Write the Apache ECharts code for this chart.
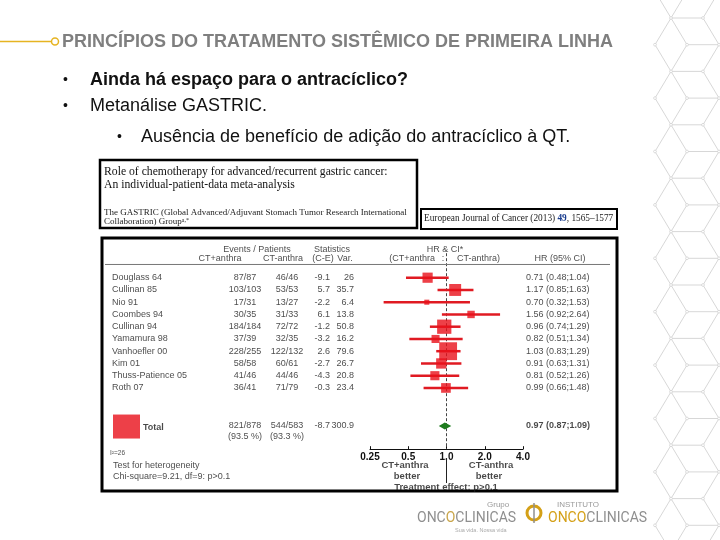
<!DOCTYPE html>
<html><head><meta charset="utf-8">
<script src="https://cdn.jsdelivr.net/npm/echarts/dist/echarts.min.js"></script>
<style>html,body{margin:0;padding:0;background:#fff}#c{width:720px;height:540px}</style>
</head><body><div id="c"></div>
<script>
// ---------- data ----------
const studies = ['Douglass 64','Cullinan 85','Nio 91','Coombes 94','Cullinan 94','Yamamura 98','Vanhoefler 00','Kim 01','Thuss-Patience 05','Roth 07'];
const eventsWith = ['87/87','103/103','17/31','30/35','184/184','37/39','228/255','58/58','41/46','36/41'];
const eventsWithout = ['46/46','53/53','13/27','31/33','72/72','32/35','122/132','60/61','44/46','71/79'];
const oMinusE = [-9.1,5.7,-2.2,6.1,-1.2,-3.2,2.6,-2.7,-4.3,-0.3];
const variance = [26,35.7,6.4,13.8,50.8,16.2,79.6,26.7,20.8,23.4];
const hr = [0.71,1.17,0.70,1.56,0.96,0.82,1.03,0.91,0.81,0.99];
const hrLow = [0.48,0.85,0.32,0.92,0.74,0.51,0.83,0.63,0.52,0.66];
const hrHigh = [1.04,1.63,1.53,2.64,1.29,1.34,1.29,1.31,1.26,1.48];
const totalEventsWith = ['821/878','(93.5 %)'];
const totalEventsWithout = ['544/583','(93.3 %)'];
const totalStats = [-8.7, 300.9];
const totalHR = [0.97, 0.87, 1.09];
const xTicks = [0.25, 0.5, 1, 2, 4];
const xTickLabels = ['0.25','0.5','1.0','2.0','4.0'];

// ---------- layout constants ----------
const ROW = 12.25;
const TOTAL_ROW = 12.1;
const FONT = "'Liberation Sans', Arial, sans-serif";
const SERIF = "'Liberation Serif', 'Times New Roman', serif";
const RED = '#e8101a';

function fmt2(v){ return v.toFixed(2); }
function textSeries(items, align, extra) {
  return Object.assign({
    type: 'scatter', xAxisIndex: 1, yAxisIndex: 1, silent: true,
    symbolSize: 1, itemStyle: { color: 'transparent' }, z: 10,
    data: items.map(it => ({ value: [it[0], it[1]], name: it[2] })),
    label: { show: true, position: 'inside', align: align, verticalAlign: 'middle',
      formatter: '{b}', fontSize: 9, color: '#1a1a1a', fontFamily: FONT }
  }, extra || {});
}
function bold(s, size){ s.label.fontWeight = 'bold'; if (size) s.label.fontSize = size; return s; }

// table columns (offsets in table grid)
const C_NAME = 10, C_W = 143, C_WO = 185, C_OE = 228, C_VAR = 252, C_HR = 424;

const nameItems = studies.map((s,i)=>[C_NAME, i, s]);
const wItems = eventsWith.map((s,i)=>[C_W, i, s]).concat([[C_W, TOTAL_ROW, totalEventsWith[0]],[C_W, 13.0, totalEventsWith[1]]]);
const woItems = eventsWithout.map((s,i)=>[C_WO, i, s]).concat([[C_WO, TOTAL_ROW, totalEventsWithout[0]],[C_WO, 13.0, totalEventsWithout[1]]]);
const oeItems = oMinusE.map((v,i)=>[C_OE, i, String(v)]).concat([[C_OE, TOTAL_ROW, String(totalStats[0])]]);
const varItems = variance.map((v,i)=>[C_VAR, i, String(v)]).concat([[C_VAR, TOTAL_ROW, String(totalStats[1])]]);
const hrItems = hr.map((v,i)=>[C_HR, i, fmt2(v)+' ('+fmt2(hrLow[i])+';'+fmt2(hrHigh[i])+')']);

const headerCenter = [[155,-2.26,'Events / Patients'],[118,-1.53,'CT+anthra'],[181,-1.53,'CT-anthra'],
  [230,-2.26,'Statistics'],[221,-1.53,'(C-E)'],[243,-1.53,'Var.'],[343,-2.26,'HR & CI*'],[341,-1.53,':'],[458,-1.53,'HR (95% CI)']];

// ---------- decoration ----------
const graphics = [];
// right "tumbling blocks" lattice
(function(){
  const a = 655, b = 671, c = 687, d = 703, e = 719, h = 26.7, y0 = 18 - 2*26.7;
  const st = { stroke: '#cdcdcd', lineWidth: 0.8 };
  const L = (x1,y1,x2,y2) => graphics.push({type:'line', shape:{x1,y1,x2,y2}, style:st, silent:true});
  const N = (x,y) => graphics.push({type:'circle', shape:{cx:x, cy:y, r:1.4}, style:{fill:'#fff', stroke:'#c8c8c8', lineWidth:0.6}, silent:true, z:1});
  for (let k = 0; k < 24; k += 2) {
    const ye = y0 + k*h, yo = ye + h, ye2 = ye + 2*h;
    L(b,ye,d,ye);           // even-row horizontal
    L(c,yo,e,yo);           // odd-row horizontal
    L(b,ye,a,yo); L(a,yo,b,ye2);
    L(b,ye,c,yo); L(c,yo,b,ye2);
    L(d,ye,e,yo); L(e,yo,d,ye2);
    N(b,ye); N(d,ye); N(a,yo); N(c,yo); N(e,yo);
  }
})();
// title
graphics.push({type:'line', shape:{x1:0,y1:41.5,x2:51,y2:41.5}, style:{stroke:'#e6b422', lineWidth:1.5}});
graphics.push({type:'circle', shape:{cx:55,cy:41.5,r:3.5}, style:{fill:'#fff', stroke:'#e6b422', lineWidth:1.5}});
graphics.push({type:'text', x:62, y:42, style:{text:'PRINCÍPIOS DO TRATAMENTO SISTÊMICO DE PRIMEIRA LINHA', fill:'#7f7f7f', font:'bold 18px '+FONT, verticalAlign:'middle'}});
// bullets
[[63,90,80,'Ainda há espaço para o antracíclico?','bold'],[63,90,106,'Metanálise GASTRIC.','normal'],[117,141,137,'Ausência de benefício de adição do antracíclico à QT.','normal']].forEach(bl=>{
  graphics.push({type:'text', x:bl[0], y:bl[2], style:{text:'•', fill:'#111', font:'14px '+FONT, verticalAlign:'middle'}});
  graphics.push({type:'text', x:bl[1], y:bl[2], style:{text:bl[3], fill:'#111', font:bl[4]+' 18px '+FONT, verticalAlign:'middle'}});
});
// article header box
graphics.push({type:'rect', shape:{x:100,y:160,width:317,height:68}, style:{fill:'#fff', stroke:'#000', lineWidth:2.5}});
graphics.push({type:'text', x:104, y:172, style:{text:'Role of chemotherapy for advanced/recurrent gastric cancer:', fill:'#111', font:'11.7px '+SERIF, verticalAlign:'middle'}});
graphics.push({type:'text', x:104, y:185, style:{text:'An individual-patient-data meta-analysis', fill:'#111', font:'11.7px '+SERIF, verticalAlign:'middle'}});
graphics.push({type:'text', x:104, y:213, style:{text:'The GASTRIC (Global Advanced/Adjuvant Stomach Tumor Research International', fill:'#222', font:'9px '+SERIF, verticalAlign:'middle'}});
graphics.push({type:'text', x:104, y:222, style:{text:'Collaboration) Group{s|a,*}', rich:{s:{fontSize:6, verticalAlign:'top', fill:'#222', fontFamily:SERIF}}, fill:'#222', font:'9px '+SERIF, verticalAlign:'middle'}});
// journal box
graphics.push({type:'rect', shape:{x:421,y:209,width:196,height:20}, style:{fill:'#fff', stroke:'#000', lineWidth:2}});
graphics.push({type:'text', x:424, y:219, style:{text:'European Journal of Cancer (2013) {b|49}, 1565–1577', rich:{b:{fontWeight:'bold', fill:'#1a3d8f', fontSize:9.3, fontFamily:SERIF}}, fill:'#222', font:'9.3px '+SERIF, verticalAlign:'middle'}});
// main box
graphics.push({type:'rect', shape:{x:102,y:238,width:515,height:253}, style:{fill:'none', stroke:'#000', lineWidth:3}, z:-1});
// logos
graphics.push({type:'text', x:487, y:505, style:{text:'Grupo', fill:'#9a9a9a', font:'8px '+FONT, verticalAlign:'middle'}});
graphics.push({type:'text', x:417, y:518, style:{text:'ONC{g|O}CLINICAS', rich:{g:{fill:'#c9a54a', fontSize:14, fontFamily:'Roboto'}}, fill:'#8f8f8f', font:'14px Roboto', verticalAlign:'middle'}});
graphics.push({type:'text', x:455, y:530, style:{text:'Sua vida. Nossa vida', fill:'#aaa', font:'5.5px '+FONT, verticalAlign:'middle'}});
graphics.push({type:'circle', shape:{cx:534,cy:513,r:7}, style:{fill:'none', stroke:'#d4a017', lineWidth:3}});
graphics.push({type:'line', shape:{x1:534,y1:503,x2:534,y2:523}, style:{stroke:'#8f8f8f', lineWidth:1.5}});
graphics.push({type:'text', x:557, y:505, style:{text:'INSTITUTO', fill:'#9a9a9a', font:'8px '+FONT, verticalAlign:'middle'}});
graphics.push({type:'text', x:548, y:518, style:{text:'{g|ONCO}CLINICAS', rich:{g:{fill:'#d4a017', fontSize:14, fontFamily:'Roboto'}}, fill:'#8f8f8f', font:'14px Roboto', verticalAlign:'middle'}});

// ---------- chart ----------
const chart = echarts.init(document.getElementById('c'), null, {renderer:'canvas'});
const option = {
  backgroundColor: '#fff',
  animation: false,
  graphic: graphics,
  grid: [
    { left: 370, top: 253.2, width: 153, height: 16*ROW },
    { left: 102, top: 277.7 - 3*ROW, width: 515, height: 21*ROW }
  ],
  xAxis: [
    { type: 'log', logBase: 2, min: 0.25, max: 4, gridIndex: 0, position: 'bottom',
      axisLine: { show: true, onZero: false, lineStyle: { color: '#111', width: 1 } },
      axisTick: { show: true, inside: true, length: 3, lineStyle: { color: '#111' } },
      splitLine: { show: false },
      axisLabel: { margin: 3, fontSize: 10, fontWeight: 'bold', color: '#111', fontFamily: FONT,
        formatter: v => { const i = xTicks.findIndex(t => Math.abs(t - v) < 1e-6); return i >= 0 ? xTickLabels[i] : ''; } } },
    { type: 'value', min: 0, max: 515, gridIndex: 1, show: false }
  ],
  yAxis: [
    { type: 'value', min: -2, max: 14, inverse: true, gridIndex: 0, show: false },
    { type: 'value', min: -3, max: 18, inverse: true, gridIndex: 1, show: false }
  ],
  series: [
    // reference line at HR = 1
    { type: 'line', xAxisIndex: 0, yAxisIndex: 0, data: [[1,-2],[1,14]], symbol: 'none', silent: true,
      lineStyle: { color: '#444', width: 1, type: [3,2] }, z: 1 },
    // treatment effect pointer below the axis
    { type: 'custom', xAxisIndex: 0, yAxisIndex: 0, clip: false, silent: true, data: [[1, 14.72, 16.76]],
      renderItem: (p, api) => { const a = api.coord([api.value(0), api.value(1)]); const b = api.coord([api.value(0), api.value(2)]);
        return { type: 'line', shape: { x1: a[0], y1: a[1], x2: b[0], y2: b[1] }, style: { stroke: '#222', lineWidth: 1 } }; } },
    // confidence intervals
    { type: 'custom', xAxisIndex: 0, yAxisIndex: 0, silent: true, z: 3,
      data: hr.map((_, i) => [hrLow[i], hrHigh[i], i]), encode: { x: [0,1], y: 2 },
      renderItem: (p, api) => { const a = api.coord([api.value(0), api.value(2)]); const b = api.coord([api.value(1), api.value(2)]);
        return { type: 'line', shape: { x1: a[0], y1: a[1], x2: b[0], y2: b[1] }, style: { stroke: '#e01a22', lineWidth: 2.5 } }; } },
    // HR squares
    { type: 'scatter', xAxisIndex: 0, yAxisIndex: 0, symbol: 'rect', silent: true, z: 4,
      data: hr.map((v, i) => ({ value: [v, i], symbolSize: Math.sqrt(variance[i]) * 2.0 })),
      itemStyle: { color: RED } },
    // total diamond
    { type: 'custom', xAxisIndex: 0, yAxisIndex: 0, silent: true, z: 4,
      data: [[totalHR[1], totalHR[2], totalHR[0], TOTAL_ROW]], encode: { x: [0,1,2], y: 3 },
      renderItem: (p, api) => { const y = api.value(3);
        const l = api.coord([api.value(0), y]), r = api.coord([api.value(1), y]), c = api.coord([api.value(2), y]);
        return { type: 'polygon', shape: { points: [l, [c[0], c[1]-3.5], r, [c[0], c[1]+3.5]] }, style: { fill: '#1e7b1e' } }; } },
    // header separator
    { type: 'line', xAxisIndex: 1, yAxisIndex: 1, data: [[3,-1.08],[508,-1.08]], symbol: 'none', silent: true,
      lineStyle: { color: '#777', width: 1 } },
    // total legend square
    { type: 'scatter', xAxisIndex: 1, yAxisIndex: 1, symbol: 'rect', symbolSize: [27, 24], silent: true,
      data: [[24.5, 12.15]], itemStyle: { color: RED } },
    // table text
    textSeries(headerCenter, 'center'),
    textSeries([[333,-1.53,'(CT+anthra']], 'right'),
    textSeries([[355,-1.53,'CT-anthra)']], 'left'),
    textSeries(nameItems, 'left'),
    bold(textSeries([[41, 12.19, 'Total']], 'left')),
    textSeries(wItems, 'center'),
    textSeries(woItems, 'center'),
    textSeries(oeItems, 'right'),
    textSeries(varItems, 'right'),
    textSeries(hrItems, 'left'),
    bold(textSeries([[C_HR, TOTAL_ROW, fmt2(totalHR[0])+' ('+fmt2(totalHR[1])+';'+fmt2(totalHR[2])+')']], 'left')),
    textSeries([[8, 14.3, 'I²=26']], 'left', {}),
    textSeries([[11, 15.3, 'Test for heterogeneity'],[11, 16.2, 'Chi-square=9.21, df=9: p>0.1']], 'left'),
    bold(textSeries([[303, 15.35, 'CT+anthra'],[305, 16.25, 'better'],[389, 15.35, 'CT-anthra'],[387, 16.25, 'better'],[344, 17.15, 'Treatment effect: p>0.1']], 'center'), 9.5)
  ]
};
option.series[option.series.length - 3].label.fontSize = 6.5;
chart.setOption(option);
</script></body></html>
